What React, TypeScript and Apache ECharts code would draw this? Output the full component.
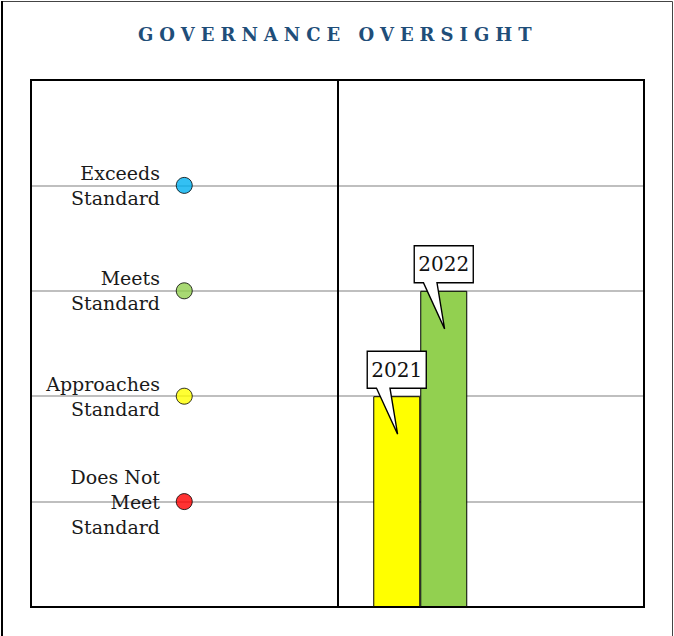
import React, { useEffect, useRef } from "react";
import * as echarts from "echarts";

const TITLE = "GOVERNANCE OVERSIGHT";
const TITLE_COLOR = "#1f4e79";
const sections = ["Levels", "Results"];
const levelValues = [1, 2, 3, 4];
const levelLabels = ["", "Does Not\nMeet\nStandard", "Approaches\nStandard", "Meets\nStandard", "Exceeds\nStandard", ""];
const levelColors = ["#ffffff", "#ff0000", "#ffff00", "#92d050", "#00b0f0", "#ffffff"];
const years = ["2021", "2022", "2023", "2024", "2025"];
const scores: (number | null)[] = [2, 3, null, null, null];

const FONT = "DejaVu Serif";
const CALLOUT = "path://M0 0 H70 V37 H27 L36 83 L11 37 H0 Z";

export default function App() {
  const ref = useRef<HTMLDivElement>(null);
  useEffect(() => {
    document.body.style.margin = "0";
    const chart = echarts.init(ref.current!, null, { renderer: "svg" });
    const barSeries = years.map((y, i) => ({
      type: "bar",
      name: y,
      xAxisIndex: 0,
      yAxisIndex: 0,
      barWidth: 47,
      barGap: "0%",
      data: [null, scores[i]],
      itemStyle: {
        color: scores[i] == null ? "#fff" : levelColors[scores[i] as number],
        borderColor: "#000",
        borderWidth: 1,
      },
      markPoint:
        scores[i] == null
          ? undefined
          : {
              data: [{ type: "max" }],
              symbol: CALLOUT,
              symbolSize: [70, 83],
              symbolKeepAspect: true,
              symbolOffset: [0, -3.5],
              itemStyle: { color: "#fff", borderColor: "#000", borderWidth: 1.5 },
              label: {
                show: true,
                position: "inside",
                offset: [0, -23],
                formatter: () => y,
                color: "#111",
                fontFamily: FONT,
                fontSize: 20,
              },
            },
    }));
    chart.setOption({
      animation: false,
      title: {
        text: TITLE,
        left: 133,
        top: 20,
        textStyle: { fontFamily: FONT, fontWeight: "bold", fontSize: 18, color: TITLE_COLOR },
      },
      grid: { left: 31, right: 30, top: 80, bottom: 29, show: true, borderColor: "#000", borderWidth: 2, backgroundColor: "transparent" },
      xAxis: {
        type: "category",
        data: sections,
        axisLabel: { show: false },
        axisTick: { show: false },
        axisLine: { show: false },
        splitLine: { show: true, lineStyle: { color: "#000", width: 2 } },
      },
      yAxis: {
        type: "value",
        min: 0,
        max: 5,
        interval: 1,
        axisLine: { show: false },
        axisTick: { show: false },
        axisLabel: {
          margin: -129,
          formatter: (v: number) => levelLabels[v] ?? "",
          fontFamily: FONT,
          fontSize: 19,
          lineHeight: 25,
          color: "#1a1a1a",
          align: "right",
        },
        splitLine: {
          show: true,
          lineStyle: { color: ["transparent", "#bfbfbf", "#bfbfbf", "#bfbfbf", "#bfbfbf", "transparent"], width: 2 },
        },
      },
      series: [
        {
          type: "scatter",
          name: "Levels",
          data: levelValues.map((v) => ({
            value: [0, v],
            itemStyle: { color: levelColors[v], borderColor: "#000", borderWidth: 1 },
          })),
          symbolSize: 16,
          z: 5,
        },
        ...barSeries,
      ],
      graphic: [
        { type: "rect", shape: { x: 1.5, y: 1.5, width: 671, height: 660 }, style: { fill: "none", stroke: "#444", lineWidth: 1 }, silent: true },
        { type: "line", shape: { x1: 2, y1: 1, x2: 2, y2: 636 }, style: { stroke: "#000", lineWidth: 2 }, silent: true },
      ],
    });
    const svg = ref.current!.querySelector("svg");
    if (svg) {
      svg.querySelectorAll("text").forEach((t) => {
        if (t.textContent === TITLE) t.setAttribute("letter-spacing", "6px");
      });
    }
    return () => chart.dispose();
  }, []);
  return (
    <>
      <style>{`text[fill="${TITLE_COLOR}"]{letter-spacing:6px;}`}</style>
      <div ref={ref} style={{ width: 674, height: 636 }} />
    </>
  );
}
